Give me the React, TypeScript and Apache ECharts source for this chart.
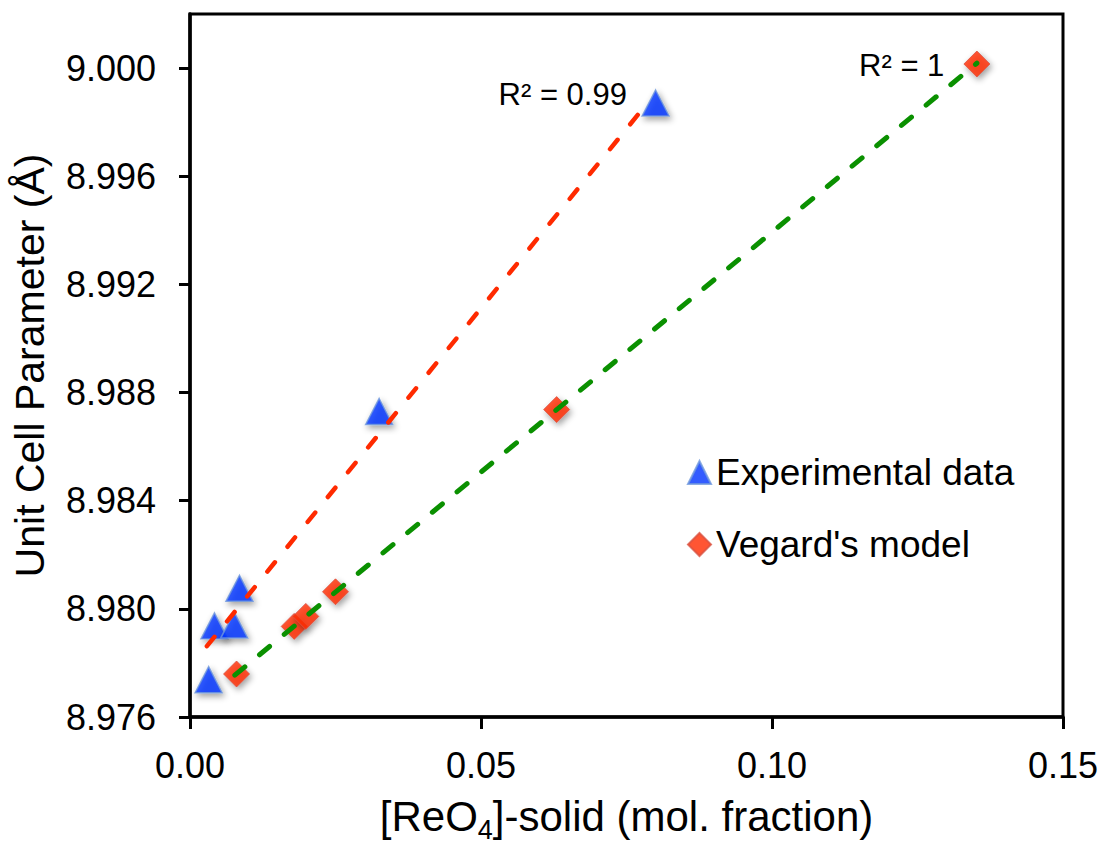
import React, { useEffect, useRef } from "react";
import * as echarts from "echarts";

// Experimental data
const expX = [0.0032, 0.0042, 0.0076, 0.0085, 0.0325, 0.08];
const expY = [8.97738, 8.97937, 8.9794, 8.98076, 8.9873, 8.99871];
// Vegard's model
const vegX = [0.008, 0.0179, 0.0199, 0.025, 0.063, 0.1352];
const vegY = [8.97759, 8.97935, 8.97972, 8.98063, 8.98737, 9.00015];
// Trend lines (endpoints)
const expFitX = [0.0029, 0.0786];
const expFitY = [8.97862, 8.99871];
const vegFitX = [0.0077, 0.1352];
const vegFitY = [8.97755, 9.00018];
const r2Labels = ["R² = 0.99", "R² = 1"];

const xMin = 0;
const xMax = 0.15;
const xStep = 0.05;
const yMin = 8.976;
const yMax = 9.002;
const yStep = 0.004;

const seriesNames = ["Experimental data", "Vegard's model"];

const FONT = "'Liberation Sans', Arial, Helvetica, sans-serif";

const zip = (xs: number[], ys: number[]) => xs.map((x, i) => [x, ys[i]]);

export default function App() {
  const ref = useRef<HTMLDivElement>(null);
  useEffect(() => {
    if (!ref.current) return;
    const chart = echarts.init(ref.current, undefined, { renderer: "svg" });
    const shadow = {
      shadowBlur: 6,
      shadowColor: "rgba(0,0,0,0.45)",
      shadowOffsetX: 2,
      shadowOffsetY: 3,
    };
    chart.setOption({
      animation: false,
      backgroundColor: "#ffffff",
      textStyle: { fontFamily: FONT },
      grid: {
        left: 190,
        right: 42,
        top: 14,
        bottom: 130,
        show: true,
        borderColor: "#000",
        borderWidth: 3,
      },
      legend: {
        data: seriesNames,
        orient: "vertical",
        left: 682,
        top: 449,
        itemWidth: 23,
        itemHeight: 23,
        itemGap: 35,
        textStyle: { fontSize: 37, color: "#000", fontFamily: FONT, lineHeight: 36 },
      },
      xAxis: {
        type: "value",
        min: xMin,
        max: xMax,
        interval: xStep,
        name: "{a|[ReO}{s|4}{a|]-solid (mol. fraction)}",
        nameLocation: "middle",
        nameGap: 73,
        nameTextStyle: {
          rich: {
            a: { fontSize: 42, color: "#000", fontFamily: FONT },
            s: { fontSize: 27, color: "#000", fontFamily: FONT, verticalAlign: "bottom", padding: [26, 0, 0, 0] },
          },
        },
        axisLine: { show: true, onZero: false, lineStyle: { color: "#000", width: 3.5 } },
        axisTick: { show: true, inside: false, length: 12, lineStyle: { color: "#000", width: 3 } },
        axisLabel: {
          fontSize: 36,
          color: "#000",
          fontFamily: FONT,
          margin: 30,
          formatter: (v: number) => v.toFixed(2),
        },
        splitLine: { show: false },
      },
      yAxis: {
        type: "value",
        min: yMin,
        max: yMax,
        interval: yStep,
        name: "Unit Cell Parameter (Å)",
        nameLocation: "middle",
        nameGap: 140,
        nameTextStyle: { fontSize: 41, color: "#000", fontFamily: FONT },
        axisLine: { show: true, onZero: false, lineStyle: { color: "#000", width: 3.5 } },
        axisTick: { show: true, inside: false, length: 11, lineStyle: { color: "#000", width: 3 } },
        axisLabel: {
          fontSize: 36,
          color: "#000",
          fontFamily: FONT,
          margin: 34,
          showMaxLabel: false,
          formatter: (v: number) => v.toFixed(3),
        },
        splitLine: { show: false },
      },
      series: [
        {
          name: seriesNames[0],
          type: "scatter",
          symbol: "triangle",
          symbolSize: [27, 26],
          data: zip(expX, expY),
          itemStyle: { color: "#0033ff", borderColor: "#6f99dc", borderWidth: 1.5, ...shadow },
          z: 2,
        },
        {
          name: seriesNames[1],
          type: "scatter",
          symbol: "diamond",
          symbolSize: [26, 26],
          data: zip(vegX, vegY),
          itemStyle: { color: "#ff2a00", borderColor: "#d9503f", borderWidth: 1, ...shadow },
          z: 2,
        },
        {
          name: "fitExp",
          type: "line",
          data: zip(expFitX, expFitY),
          symbol: "none",
          lineStyle: { color: "#ff2a00", width: 4.5, type: [12, 20], cap: "round" },
          z: 3,
          silent: true,
        },
        {
          name: "fitVeg",
          type: "line",
          data: zip(vegFitX, vegFitY),
          symbol: "none",
          lineStyle: { color: "#0a9000", width: 5, type: [13, 19], cap: "round" },
          z: 3,
          silent: true,
        },
        {
          name: "r2",
          type: "scatter",
          symbolSize: 1,
          itemStyle: { color: "rgba(0,0,0,0)" },
          silent: true,
          z: 4,
          data: [
            {
              value: [expFitX[1], expFitY[1]],
              label: { show: true, position: "left", distance: 20, offset: [0, -8] },
            },
            {
              value: [vegFitX[1], vegFitY[1]],
              label: { show: true, position: "left", distance: 32, offset: [0, 2] },
            },
          ],
          label: {
            fontSize: 31,
            color: "#000000",
            opacity: 1,
            fontFamily: FONT,
            formatter: (p: any) => r2Labels[p.dataIndex],
          },
        },
      ],
    });
    return () => chart.dispose();
  }, []);
  return (
    <div
      ref={ref}
      style={{ position: "fixed", left: 0, top: 0, width: 1105, height: 848, background: "#fff" }}
    />
  );
}
